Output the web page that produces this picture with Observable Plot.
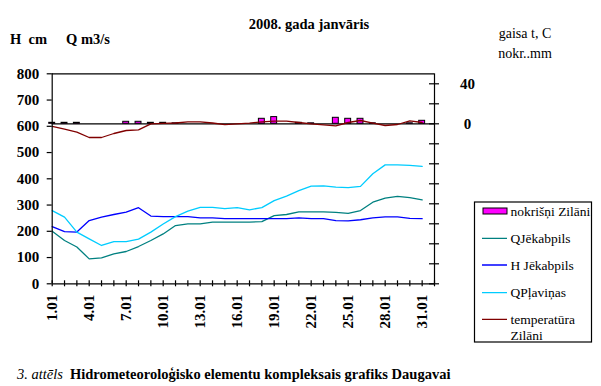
<!DOCTYPE html>
<html>
<head>
<meta charset="utf-8">
<script src="https://cdn.jsdelivr.net/npm/d3@7"></script>
<script src="https://cdn.jsdelivr.net/npm/@observablehq/plot@0.6"></script>
<style>
  body { margin: 0; background: #fff; }
  #wrap { position: relative; width: 601px; height: 386px; overflow: hidden; background: #fff; }
  #wrap svg { position: absolute; left: 0; top: 0; }
  #wrap svg text { font-family: "Liberation Serif", "Times New Roman", Times, "DejaVu Serif", serif !important; }
</style>
</head>
<body>
<div id="wrap"></div>
<script>
// ---- data (January 2008, daily) ----
const days = d3.range(1, 32);
const hJekabpils = [218,199,197,241,254,264,273,290,258,256,256,256,251,251,248,248,248,248,248,248,251,248,248,241,240,244,251,255,255,249,248];
const qJekabpils = [200,165,140,95,99,114,123,142,165,190,222,228,228,235,235,235,235,237,260,264,274,274,274,272,268,279,311,326,333,328,320];
const qPlavinas  = [279,254,197,171,146,161,161,170,197,228,256,277,291,291,286,290,282,290,317,334,355,372,373,368,366,371,419,453,453,451,447];
const temperature = [-2.5,-5.3,-8.3,-13.7,-13.7,-9.7,-6.7,-6,0,0.5,0.8,2,2,0.8,-0.8,0,0.7,2,2.7,2.7,1.3,0,-1,-2,1.3,3.3,0.7,-1.7,-0.7,3,1.3];
const precipitation = [1,1,1,0,0,0,2,2,1,1,0.5,0,0,0,0,0,0,5,6.7,0,1,0.5,0,6,5,5,0.5,0,0,0.5,3];
const leftTicks = [0,100,200,300,400,500,600,700,800];
const rightTicks = [-160,-140,-120,-100,-80,-60,-40,-20,0,20,40];
const rightLabels = [0, 40];
const xTickLabels = ["1.01","4.01","7.01","10.01","13.01","16.01","19.01","22.01","25.01","28.01","31.01"];

const title = "2008. gada janvāris";
const leftUnits = ["H  cm", "Q m3/s"];
const rightUnits = ["gaisa t, C", "nokr..mm"];
const legendItems = ["nokrišņi Zilāni", "QJēkabpils", "H Jēkabpils", "QPļaviņas", "temperatūra", "Zilāni"];

const colors = {
  prec: "#FF00FF", qJ: "#008080", hJ: "#0000FF", qP: "#00CCFF", temp: "#800000"
};

// secondary (right) axis: [-160, 50] mapped onto the primary [0, 800]
const toLeft = r => (r + 160) * 800 / 210;

const rows = days.map((d, i) => ({
  day: d, h: hJekabpils[i], qj: qJekabpils[i], qp: qPlavinas[i],
  t: toLeft(temperature[i]), p: precipitation[i]
}));
const bars = rows.filter(r => r.p > 0);
const xLabelOf = new Map(xTickLabels.map(l => [parseInt(l), l]));

const FONT = '"Liberation Serif", "Times New Roman", Times, "DejaVu Serif", serif';
const W = 601, H = 386;
const mL = 51.7, mR = 601 - 434, mT = 73.3, mB = 386 - 283.3;
const pxPerDay = (W - mL - mR) / 31;
const pxPerUnit = (H - mT - mB) / 800;

const chart = Plot.plot({
  width: W, height: H,
  marginLeft: mL, marginRight: mR, marginTop: mT, marginBottom: mB,
  x: { type: "linear", domain: [1, 32] },
  y: { type: "linear", domain: [0, 800] },
  style: { fontFamily: FONT, fontSize: "15px", color: "#000", background: "transparent", overflow: "visible" },
  marks: [
    Plot.ruleY([800], { x1: 1, x2: 32, stroke: "#000", strokeWidth: 1.2 }),
    Plot.ruleY([toLeft(0)], { x1: 1, x2: 32, stroke: "#000", strokeWidth: 1.2 }),
    Plot.rectY(bars, {
      x1: d => d.day - 0.24, x2: d => d.day + 0.24,
      y1: () => toLeft(0), y2: d => toLeft(d.p),
      fill: colors.prec, stroke: "#000", strokeWidth: 1
    }),
    Plot.line(rows, { x: "day", y: "qj", stroke: colors.qJ, strokeWidth: 1.3 }),
    Plot.line(rows, { x: "day", y: "h", stroke: colors.hJ, strokeWidth: 1.3 }),
    Plot.line(rows, { x: "day", y: "qp", stroke: colors.qP, strokeWidth: 1.3 }),
    Plot.line(rows, { x: "day", y: "t", stroke: colors.temp, strokeWidth: 1.3 }),
    // axis lines
    Plot.ruleX([1], { y1: 0, y2: 800, stroke: "#000", strokeWidth: 1.2 }),
    Plot.ruleX([32], { y1: 0, y2: 800, stroke: "#000", strokeWidth: 1.2 }),
    Plot.ruleY([0], { x1: 1, x2: 32, stroke: "#000", strokeWidth: 1.2 }),
    // left axis
    Plot.axisY({ ticks: leftTicks, tickSize: 5, tickPadding: 8, tickFormat: d => String(d), fontWeight: "bold", fontSize: 15, strokeWidth: 1.2, label: null }),
    // bottom axis (ticks cross the axis line)
    Plot.axisX({ ticks: d3.range(1, 33), tickSize: 3, tickPadding: 8, tickRotate: -90,
      tickFormat: d => xLabelOf.get(d) ?? "", fontWeight: "bold", fontSize: 15, strokeWidth: 1.2, label: null }),
    Plot.ruleX(d3.range(1, 33), { y1: 0, y2: 3 / pxPerUnit, stroke: "#000", strokeWidth: 1.2 }),
    // right axis ticks (crossing) and labels
    Plot.ruleY(rightTicks.map(toLeft), { x1: 32 - 5 / pxPerDay, x2: 32 + 5 / pxPerDay, stroke: "#000", strokeWidth: 1.2 }),
    Plot.text(rightLabels, { x: () => 32, y: d => toLeft(d), text: d => String(d), dx: 33, textAnchor: "middle", fontWeight: "bold", fontSize: 15 })
  ]
});

const wrap = document.getElementById("wrap");
wrap.appendChild(chart);

// overlay texts and legend
const svg = d3.select(wrap).append("svg").attr("width", W).attr("height", H).style("pointer-events", "none");
function txt(sel, x, y, s, size, opts = {}) {
  const t = sel.append("text").attr("x", x).attr("y", y).attr("font-family", FONT)
    .attr("font-size", size).attr("fill", "#000").text(s);
  if (opts.bold) t.attr("font-weight", "bold");
  if (opts.anchor) t.attr("text-anchor", opts.anchor);
  if (opts.pre) t.style("white-space", "pre");
  return t;
}
txt(svg, 309, 29, title, 14.5, { bold: true, anchor: "middle" });
txt(svg, 10, 44, leftUnits[0], 14.5, { bold: true, pre: true });
txt(svg, 66, 44, leftUnits[1], 14.5, { bold: true });
txt(svg, 525, 38, rightUnits[0], 14, { anchor: "middle" });
txt(svg, 525, 58, rightUnits[1], 14, { anchor: "middle" });

// legend
const lg = svg.append("g");
lg.append("defs").append("clipPath").attr("id", "lgclip").append("rect")
  .attr("x", 474.5).attr("y", 202).attr("width", 117).attr("height", 140);
lg.append("rect").attr("x", 474.5).attr("y", 202).attr("width", 117).attr("height", 140)
  .attr("fill", "#fff").attr("stroke", "#000").attr("stroke-width", 1.2);
const items = lg.append("g").attr("clip-path", "url(#lgclip)");
items.append("rect").attr("x", 483).attr("y", 208).attr("width", 24).attr("height", 6)
  .attr("fill", colors.prec).attr("stroke", "#000").attr("stroke-width", 1);
const ly = [211, 238.3, 265, 292.7, 319.3];
const lc = [null, colors.qJ, colors.hJ, colors.qP, colors.temp];
ly.forEach((y, i) => {
  if (lc[i]) items.append("line").attr("x1", 482).attr("x2", 507).attr("y1", y).attr("y2", y)
    .attr("stroke", lc[i]).attr("stroke-width", 1.3);
  txt(items, 510.5, y + 4.5, legendItems[i], 13.5);
});
txt(items, 510.5, 339.5, legendItems[5], 13.5);

// caption
const cap = svg.append("text").attr("x", 17).attr("y", 379).attr("font-family", FONT).attr("font-size", 14.5).attr("fill", "#000");
cap.append("tspan").attr("font-style", "italic").text("3. attēls");
cap.append("tspan").attr("font-weight", "bold").attr("dx", 7).text("Hidrometeoroloģisko elementu kompleksais grafiks Daugavai");
</script>
</body>
</html>
